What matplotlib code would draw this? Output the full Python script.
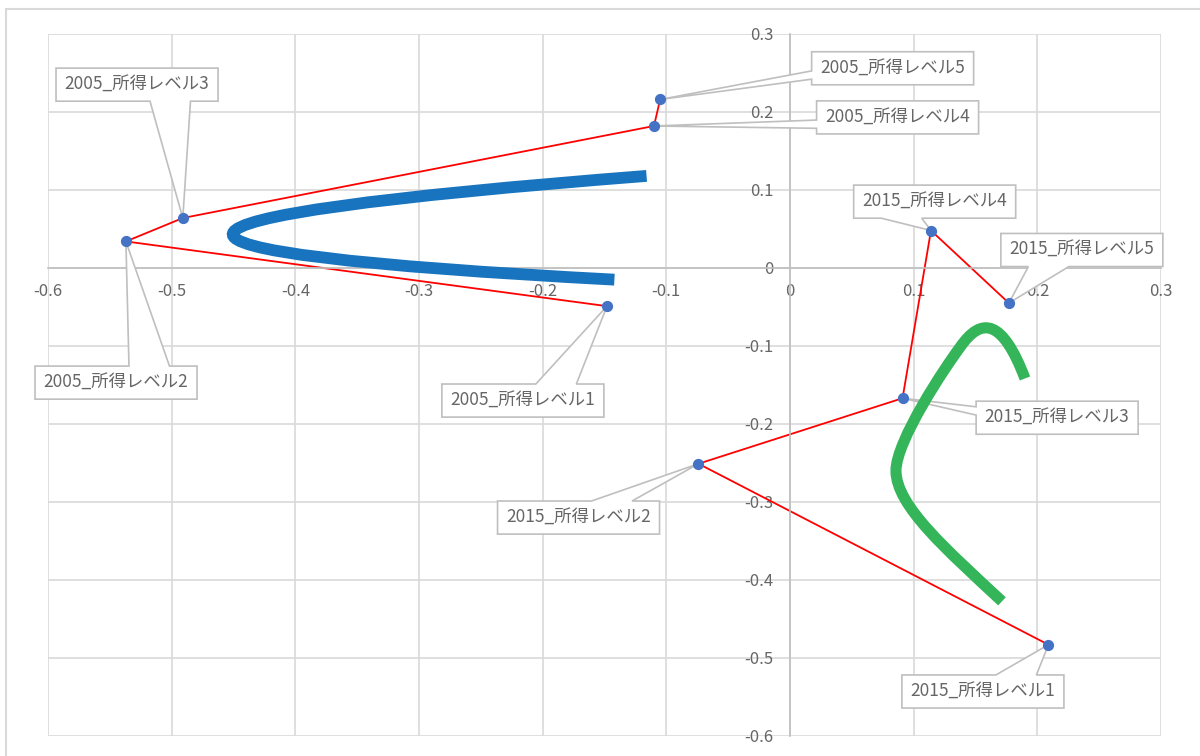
import matplotlib
matplotlib.use("Agg")
import matplotlib.pyplot as plt
from matplotlib.path import Path
from matplotlib.patches import PathPatch, Polygon, Rectangle

plt.rcParams['font.family'] = ['Noto Sans CJK JP', 'DejaVu Sans']

# --- data ---
labels_2005 = ["2005_所得レベル1", "2005_所得レベル2", "2005_所得レベル3",
               "2005_所得レベル4", "2005_所得レベル5"]
x_2005 = [-0.148, -0.537, -0.491, -0.110, -0.105]
y_2005 = [-0.049, 0.034, 0.064, 0.182, 0.216]

labels_2015 = ["2015_所得レベル1", "2015_所得レベル2", "2015_所得レベル3",
               "2015_所得レベル4", "2015_所得レベル5"]
x_2015 = [0.209, -0.074, 0.091, 0.114, 0.177]
y_2015 = [-0.483, -0.251, -0.167, 0.048, -0.045]

# hand-drawn arrows (bezier control points, data units)
blue_x = [-0.116, -0.772, -0.142]
blue_y = [0.118, 0.0375, -0.015]
green_x = [0.1714, 0.1269, 0.0857, 0.0857, 0.0857, 0.1253, 0.1374,
           0.1552, 0.1722, 0.1900]
green_y = [-0.4274, -0.3616, -0.3050, -0.2600, -0.2215, -0.1276, -0.1019,
           -0.0608, -0.0672, -0.1417]

ticks = [-0.6, -0.5, -0.4, -0.3, -0.2, -0.1, 0, 0.1, 0.2, 0.3]
tick_labels = ["-0.6", "-0.5", "-0.4", "-0.3", "-0.2", "-0.1", "0", "0.1", "0.2", "0.3"]

# label box centres + which side the pointer leaves from
box_2005 = [(-0.216, -0.170), (-0.545, -0.147), (-0.528, 0.235), (0.087, 0.193), (0.083, 0.256)]
side_2005 = [("top", "hi"), ("top", "hi"), ("bottom", "hi"), ("left", "hi"), ("left", "hi")]
box_2015 = [(0.156, -0.543), (-0.171, -0.320), (0.216, -0.192), (0.117, 0.085), (0.236, 0.023)]
side_2015 = [("top", "hi"), ("top", "hi"), ("left", "lo"), ("bottom", "lo"), ("bottom", "lo")]
box_w, box_h = 0.131, 0.0424

txt_col = "#666666"
grid_col = "#d9d9d9"

fig = plt.figure(figsize=(12, 7.56), dpi=100)
ax = fig.add_axes([0.04, 0.0265, 0.9275, 0.9286])
ax.set_xlim(-0.6, 0.3)
ax.set_ylim(-0.6, 0.3)
ax.set_xticks(ticks, tick_labels)
ax.set_yticks(ticks, tick_labels)
ax.grid(color=grid_col, lw=1.2)
ax.set_axisbelow(True)
for s in ["top", "right"]:
    ax.spines[s].set_visible(False)
for s in ["left", "bottom"]:
    ax.spines[s].set_position(("data", 0))
    ax.spines[s].set_color("#bfbfbf")
    ax.spines[s].set_linewidth(1.2)
ax.tick_params(length=0, labelsize=12, labelcolor=txt_col)
ax.tick_params(axis="x", pad=11)
ax.tick_params(axis="y", pad=12)

# outer chart border
fig.patches.append(Rectangle((6 / 1200, -0.1), 2, 1.1 - 9 / 756, transform=fig.transFigure,
                             fill=False, ec=grid_col, lw=1.5))

# red connecting lines + points
ax.plot(x_2005, y_2005, color="#ff0000", lw=1.3, zorder=2)
ax.plot(x_2015, y_2015, color="#ff0000", lw=1.3, zorder=2)
ax.scatter(x_2005 + x_2015, y_2005 + y_2015, s=50, color="#4472c4", zorder=6)

# thick arrows
blue = Path(list(zip(blue_x, blue_y)), [Path.MOVETO, Path.CURVE3, Path.CURVE3])
ax.add_patch(PathPatch(blue, fill=False, ec="#1874be", lw=8.5, capstyle="butt", zorder=4))
green = Path(list(zip(green_x, green_y)), [Path.MOVETO] + [Path.CURVE4] * 9)
ax.add_patch(PathPatch(green, fill=False, ec="#35b55a", lw=8, capstyle="butt",
                       joinstyle="round", zorder=4))


def callout(cx, cy, px, py, side, pos, text):
    hw, hh = box_w / 2, box_h / 2
    f1, f2 = (0.58, 0.83) if pos == "hi" else (0.17, 0.42)
    l, r, t, b = cx - hw, cx + hw, cy + hh, cy - hh
    v = [(l, t)]
    if side == "top":
        v += [(l + f1 * 2 * hw, t), (px, py), (l + f2 * 2 * hw, t)]
    v += [(r, t), (r, b)]
    if side == "bottom":
        v += [(l + f2 * 2 * hw, b), (px, py), (l + f1 * 2 * hw, b)]
    v += [(l, b)]
    if side == "left":
        v += [(l, t - f2 * 2 * hh), (px, py), (l, t - f1 * 2 * hh)]
    ax.add_patch(Polygon(v, closed=True, fc="white", ec="#bfbfbf", lw=1.2,
                         joinstyle="miter", zorder=3, clip_on=False))
    ax.text(cx, cy, text, ha="center", va="center", fontsize=12.5, color=txt_col,
            zorder=3.5, clip_on=False)


for i in range(5):
    callout(*box_2005[i], x_2005[i], y_2005[i], *side_2005[i], labels_2005[i])
    callout(*box_2015[i], x_2015[i], y_2015[i], *side_2015[i], labels_2015[i])

fig.savefig("out.png", dpi=100)
